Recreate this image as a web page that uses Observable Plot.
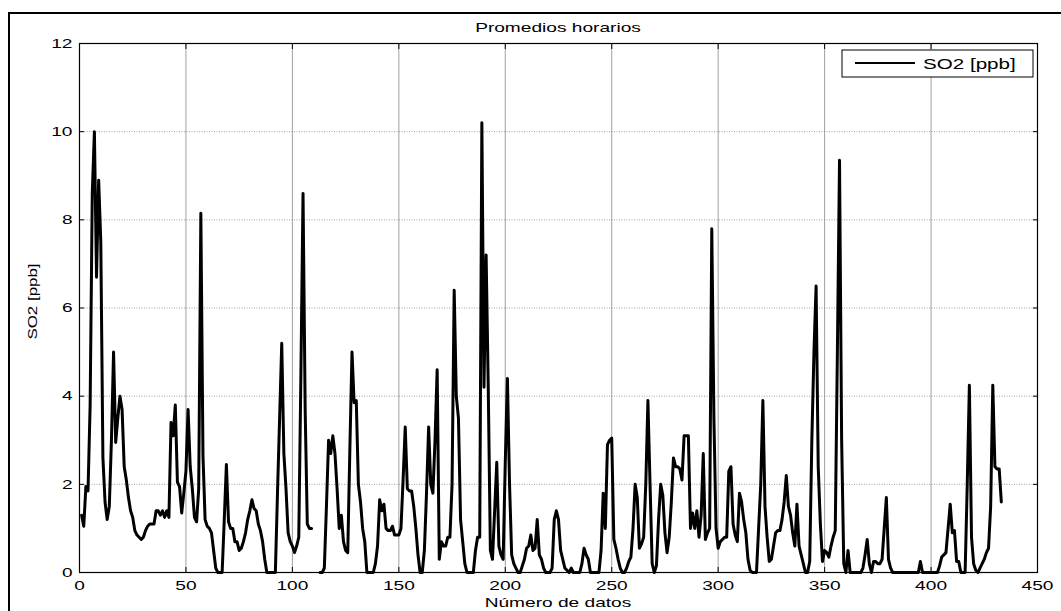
<!DOCTYPE html>
<html><head><meta charset="utf-8">
<script src="https://cdn.jsdelivr.net/npm/d3@7"></script>
<script src="https://cdn.jsdelivr.net/npm/@observablehq/plot@0.6"></script>
<style>
body{margin:0;background:#fff;}
#chart{position:relative;width:1061px;height:611px;overflow:hidden;background:#fff;}
</style></head><body><div id="chart"></div>
<script>
// Hourly SO2 averages (index 1..433); null = missing data (gap)
const so2 = [
  1.3, 1.05, 1.95, 1.85, 3.8, 8.6, 10.0, 6.7, 8.9, 7.5,
  2.6, 1.6, 1.2, 1.5, 3.0, 5.0, 2.95, 3.5, 4.0, 3.7,
  2.4, 2.1, 1.7, 1.4, 1.25, 0.95, 0.85, 0.8, 0.75, 0.8,
  0.95, 1.05, 1.1, 1.1, 1.1, 1.4, 1.4, 1.3, 1.4, 1.25,
  1.4, 1.25, 3.4, 3.1, 3.8, 2.05, 1.95, 1.35, 1.8, 2.3,
  3.7, 2.4, 1.9, 1.25, 1.15, 1.9, 8.15, 2.65, 1.2, 1.05,
  1.0, 0.9, 0.5, 0.1, 0, 0, 0, 1.2, 2.45, 1.15,
  1.0, 1.0, 0.7, 0.7, 0.5, 0.55, 0.7, 0.9, 1.2, 1.4,
  1.65, 1.45, 1.4, 1.1, 0.95, 0.7, 0.3, 0, 0, 0,
  0, 0, 1.8, 3.5, 5.2, 2.7, 1.9, 0.9, 0.7, 0.6,
  0.45, 0.6, 0.8, 4.5, 8.6, 3.7, 1.1, 1.0, 1.0, null,
  null, null, 0, 0, 0.1, 1.5, 3.0, 2.7, 3.1, 2.7,
  1.9, 1.0, 1.3, 0.7, 0.5, 0.45, 2.8, 5.0, 3.85, 3.9,
  2.0, 1.6, 1.0, 0.7, 0, 0, 0, 0, 0.2, 0.6,
  1.65, 1.4, 1.55, 1.0, 0.95, 0.95, 1.05, 0.85, 0.85, 0.85,
  1.0, 2.1, 3.3, 1.9, 1.85, 1.85, 1.5, 1.0, 0.4, 0,
  0, 0.5, 1.8, 3.3, 2.0, 1.8, 3.0, 4.6, 0.3, 0.7,
  0.6, 0.6, 0.8, 0.8, 2.0, 6.4, 4.0, 3.5, 1.2, 0.7,
  0.2, 0, 0, 0, 0, 0.5, 0.8, 0.8, 10.2, 4.2,
  7.2, 4.2, 0.5, 0.3, 1.4, 2.5, 0.6, 0.4, 0.3, 2.5,
  4.4, 2.0, 0.4, 0.2, 0.1, 0, 0, 0.15, 0.3, 0.55,
  0.6, 0.85, 0.5, 0.55, 1.2, 0.4, 0.3, 0.1, 0, 0,
  0, 0.1, 1.2, 1.4, 1.2, 0.5, 0.3, 0.1, 0.05, 0,
  0.1, 0, 0, 0, 0, 0.2, 0.55, 0.4, 0.3, 0,
  0, 0, 0, 0, 0.5, 1.8, 1.0, 2.9, 3.0, 3.05,
  0.75, 0.55, 0.3, 0.1, 0, 0, 0.1, 0.25, 0.35, 1.0,
  2.0, 1.7, 0.55, 0.65, 0.8, 2.0, 3.9, 2.0, 0.2, 0,
  0.15, 1.2, 2.0, 1.75, 0.9, 0.45, 0.8, 1.6, 2.6, 2.4,
  2.4, 2.35, 2.1, 3.1, 3.1, 3.1, 1.0, 1.35, 1.0, 1.4,
  0.8, 1.3, 2.7, 0.75, 0.9, 1.0, 7.8, 3.5, 1.0, 0.55,
  0.7, 0.75, 0.8, 0.8, 2.3, 2.4, 1.1, 0.85, 0.7, 1.8,
  1.6, 1.2, 0.9, 0.3, 0.05, 0, 0, 0, 1.0, 2.0,
  3.9, 1.5, 0.8, 0.25, 0.3, 0.6, 0.9, 0.95, 0.95, 1.2,
  1.6, 2.2, 1.5, 1.3, 0.9, 0.6, 1.55, 0.6, 0.4, 0.2,
  0, 0, 0.25, 3.0, 5.0, 6.5, 2.4, 1.1, 0.25, 0.5,
  0.45, 0.35, 0.6, 0.8, 0.95, 5.0, 9.35, 3.0, 0.2, 0,
  0.5, 0, 0, 0, 0, 0, 0, 0.1, 0.4, 0.75,
  0.2, 0, 0.25, 0.25, 0.2, 0.2, 0.3, 1.0, 1.7, 0.3,
  0.1, 0, 0, 0, 0, 0, 0, 0, 0, 0,
  0, 0, 0, 0, 0.25, 0, 0, 0, 0, 0,
  0, 0, 0, 0.15, 0.35, 0.4, 0.45, 1.0, 1.55, 0.9,
  0.95, 0.25, 0.25, 0, 0, 0, 2.0, 4.25, 0.8, 0.2,
  0.05, 0, 0.1, 0.2, 0.3, 0.45, 0.55, 1.5, 4.25, 2.4,
  2.35, 2.35, 1.6
];
const xTicks = [0, 50, 100, 150, 200, 250, 300, 350, 400, 450];
const yTicks = [0, 2, 4, 6, 8, 10, 12];
const titleText = "Promedios horarios";
const xLabel = "Número de datos";
const yLabel = "SO2 [ppb]";
const legendLabel = "SO2 [ppb]";

const data = so2.map((v, i) => ({n: i + 1, v}));
const W = 1061, H = 611;
const FONT = "'Liberation Sans', Arial, Helvetica, sans-serif";
const STRETCH = 1.47;

const plot = Plot.plot({
  width: W, height: H,
  marginLeft: 79, marginRight: 24, marginTop: 43, marginBottom: 39,
  style: {fontFamily: FONT, fontSize: "13px", color: "#000", background: "#fff", overflow: "visible"},
  x: {domain: [0, 450], ticks: xTicks},
  y: {domain: [0, 12], ticks: yTicks},
  marks: [
    Plot.ruleX(xTicks.slice(1, -1), {stroke: "#a0a0a0", strokeWidth: 1}),
    Plot.ruleY(yTicks.slice(1, -1), {stroke: "#8a8a8a", strokeWidth: 0.8, strokeDasharray: "1,1.5"}),
    Plot.line(data, {x: "n", y: "v", stroke: "#000", strokeWidth: 3}),
    Plot.frame({stroke: "#000", strokeWidth: 1.2}),
    Plot.axisX(xTicks, {anchor: "bottom", tickSize: 0, tickPadding: 8, label: null, fill: "#000"}),
    Plot.axisX(xTicks, {anchor: "bottom", tickSize: -5, text: null, label: null, stroke: "#000"}),
    Plot.axisX(xTicks, {anchor: "top", tickSize: -5, text: null, label: null, stroke: "#000"}),
    Plot.axisY(yTicks, {anchor: "left", tickSize: 0, tickPadding: 7, label: null, fill: "#000"}),
    Plot.axisY(yTicks, {anchor: "left", tickSize: -5, text: null, label: null, stroke: "#000"}),
    Plot.axisY(yTicks, {anchor: "right", tickSize: -5, text: null, label: null, stroke: "#000"})
  ]
});
document.getElementById("chart").appendChild(plot);

const svg = d3.select(plot);
const xs = plot.scale("x"), ys = plot.scale("y");
const x0 = xs.apply(0), x1 = xs.apply(450);
const yTop = ys.apply(12), yBot = ys.apply(0);
const cx = (x0 + x1) / 2;

// outer figure frame (top and left edges visible)
svg.append("path").attr("d", `M9,${H} V13 H${W}`).attr("fill", "none").attr("stroke", "#000").attr("stroke-width", 2);

// title
svg.append("text").attr("class", "stretch").attr("x", cx).attr("y", yTop - 11)
  .attr("text-anchor", "middle").attr("font-family", FONT).attr("font-size", 13).attr("fill", "#000").text(titleText);
// x label
svg.append("text").attr("class", "stretch").attr("x", cx).attr("y", H - 4)
  .attr("text-anchor", "middle").attr("font-family", FONT).attr("font-size", 13).attr("fill", "#000").text(xLabel);
// y label (rotated)
const yl = svg.append("text").attr("transform", `translate(37,${(yTop + yBot) / 2 - 6}) rotate(-90)`)
  .attr("text-anchor", "middle").attr("font-family", FONT).attr("font-size", 13).attr("fill", "#000").text(yLabel);

// legend
const lg = svg.append("g");
lg.append("rect").attr("x", 842).attr("y", 50).attr("width", 191).attr("height", 27)
  .attr("fill", "#fff").attr("stroke", "#000").attr("stroke-width", 1);
lg.append("line").attr("x1", 855).attr("x2", 915).attr("y1", 63).attr("y2", 63)
  .attr("stroke", "#000").attr("stroke-width", 2);
lg.append("text").attr("class", "stretch").attr("x", 923).attr("y", 68.5).attr("text-anchor", "start")
  .attr("font-family", FONT).attr("font-size", 14).attr("fill", "#000").text(legendLabel);

// horizontal stretch of text, as in the reference
svg.selectAll("g[aria-label$='tick label'] text, text.stretch").each(function () {
  const len = this.getComputedTextLength();
  if (len > 0) {
    this.setAttribute("textLength", (len * STRETCH).toFixed(1));
    this.setAttribute("lengthAdjust", "spacingAndGlyphs");
  }
});
{
  const node = yl.node();
  const len = node.getComputedTextLength();
  if (len > 0) {
    node.setAttribute("textLength", (len * 1.3).toFixed(1));
    node.setAttribute("lengthAdjust", "spacingAndGlyphs");
  }
}
</script>
</body></html>
